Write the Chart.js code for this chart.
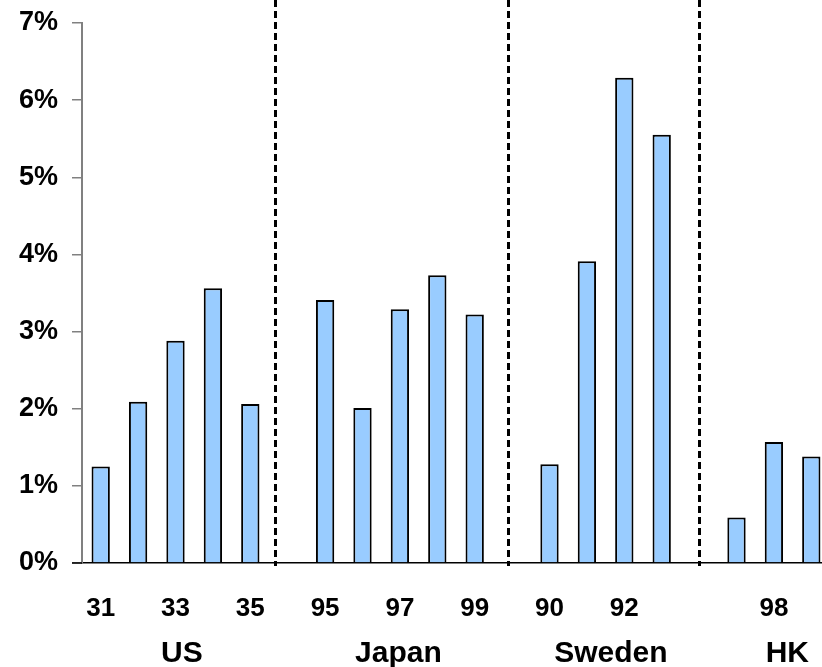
<!DOCTYPE html>
<html>
<head>
<meta charset="utf-8">
<style>
  html, body { margin: 0; padding: 0; background: #fff; overflow: hidden; }
  canvas { display: block; }
</style>
<script src="https://cdn.jsdelivr.net/npm/chart.js@4.4.1/dist/chart.umd.min.js"></script>
</head>
<body>
<canvas id="chart" width="834" height="667"></canvas>
<script>
// years per country, gap slots are empty strings
const categories = ['31', '32', '33', '34', '35', '',
                    '95', '96', '97', '98', '99', '',
                    '90', '91', '92', '93', '',
                    '97', '98', '99'];
const tickLabels = ['31', '', '33', '', '35', '',
                    '95', '', '97', '', '99', '',
                    '90', '', '92', '', '',
                    '', '98', ''];

// values in %
const usValues = [1.25, 2.09, 2.88, 3.56, 2.06];
const japanValues = [3.41, 2.01, 3.29, 3.73, 3.22];
const swedenValues = [1.28, 3.91, 6.29, 5.55];
const hkValues = [0.59, 1.57, 1.38];

const yTicks = [0, 1, 2, 3, 4, 5, 6, 7];

const groupNames = ['US', 'Japan', 'Sweden', 'HK'];
const groupPos = [2.17, 7.96, 13.64, 18.36];   // in category units
const dividerPos = [4.65, 10.88, 16.0];

const values = [...usValues, null, ...japanValues, null, ...swedenValues, null, ...hkValues];

const FONT = '"Liberation Sans", Arial, sans-serif';

// dashed separators + country names
const extras = {
    id: 'extras',
    afterDatasetsDraw(chart) {
        const ctx = chart.ctx;
        const x = chart.scales.x;
        const area = chart.chartArea;
        ctx.save();
        ctx.strokeStyle = '#000';
        ctx.lineWidth = 3;
        ctx.setLineDash([7, 4]);
        dividerPos.forEach(p => {
            const px = Math.round(x.getPixelForValue(p)) + 0.5;
            ctx.beginPath();
            ctx.moveTo(px, 0);
            ctx.lineTo(px, area.bottom + 3);
            ctx.stroke();
        });
        ctx.restore();

        // x axis line runs a bit left of the y axis
        ctx.save();
        ctx.strokeStyle = '#000';
        ctx.lineWidth = 1.5;
        ctx.beginPath();
        ctx.moveTo(area.left - 10, area.bottom);
        ctx.lineTo(area.left, area.bottom);
        ctx.stroke();
        ctx.restore();

        ctx.save();
        ctx.fillStyle = '#000';
        ctx.font = 'bold 30px ' + FONT;
        ctx.textAlign = 'center';
        ctx.textBaseline = 'alphabetic';
        groupNames.forEach((name, i) => {
            ctx.fillText(name, x.getPixelForValue(groupPos[i]), area.bottom + 99);
        });
        ctx.restore();
    }
};

new Chart(document.getElementById('chart'), {
    type: 'bar',
    data: {
        labels: categories,
        datasets: [{
            data: values,
            backgroundColor: '#99CCFF',
            borderColor: '#000',
            borderWidth: 2,
            borderSkipped: 'bottom',
            categoryPercentage: 1,
            barPercentage: 0.49
        }]
    },
    options: {
        responsive: false,
        animation: false,
        layout: { padding: { top: 23, right: 4, left: 0, bottom: 0 } },
        plugins: { legend: { display: false }, tooltip: { enabled: false } },
        scales: {
            x: {
                grid: { display: false, drawTicks: true, tickLength: 30 },
                border: { display: true, color: '#000', width: 1.5 },
                ticks: {
                    autoSkip: false,
                    maxRotation: 0,
                    padding: 0,
                    color: '#000',
                    font: { family: FONT, size: 26, weight: 'bold' },
                    callback: (v, i) => tickLabels[i]
                },
                afterFit: s => { s.height = 104; }
            },
            y: {
                min: 0,
                max: 7,
                afterBuildTicks: s => { s.ticks = yTicks.map(v => ({ value: v })); },
                grid: { drawOnChartArea: false, color: '#808080', tickLength: 10, lineWidth: 1.5 },
                border: { display: true, color: '#808080', width: 2 },
                ticks: {
                    padding: 14,
                    color: '#000',
                    font: { family: FONT, size: 27, weight: 'bold', lineHeight: 0.6 },
                    callback: v => v + '%'
                },
                afterFit: s => { s.width = 82; }
            }
        }
    },
    plugins: [extras]
});
</script>
</body>
</html>
